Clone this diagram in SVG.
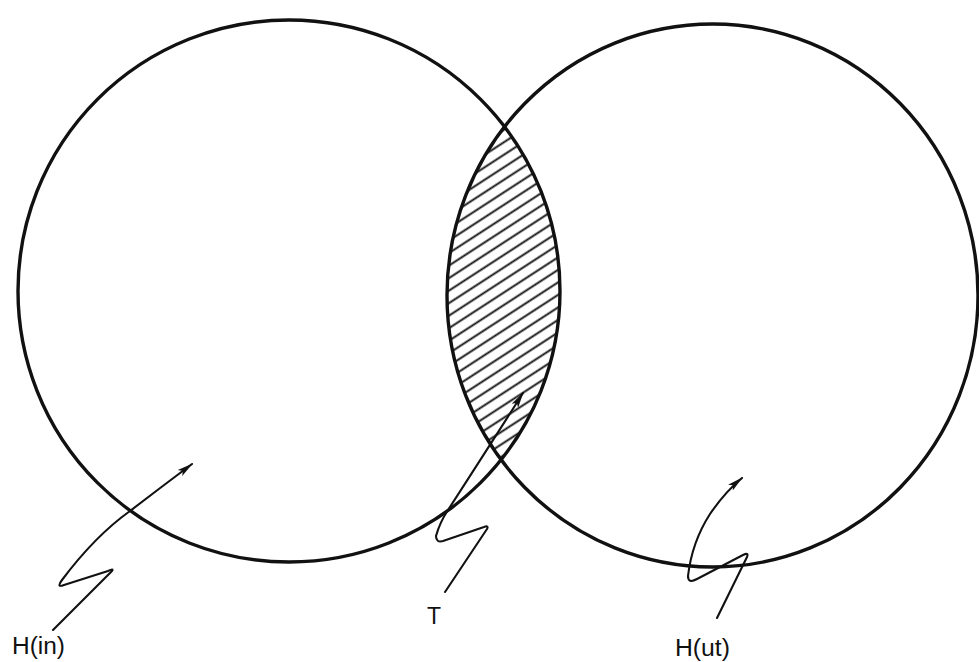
<svg xmlns="http://www.w3.org/2000/svg" width="979" height="662" viewBox="0 0 979 662">
<style>
.ring{fill:none;stroke:#111;stroke-width:3.4}
.wire{fill:none;stroke:#111;stroke-width:2.1;stroke-linejoin:round;stroke-linecap:round}
.lbl{font-family:"Liberation Sans",Arial,sans-serif;font-size:23px;fill:#111}
</style>
<defs>
<pattern id="hatch" patternUnits="userSpaceOnUse" width="10.5" height="10.5" patternTransform="rotate(-33)">
<line x1="-2" y1="5.25" x2="12.5" y2="5.25" stroke="#111" stroke-width="1.9"/>
</pattern>
<clipPath id="clipL"><circle cx="289" cy="291" r="271"/></clipPath>
<clipPath id="clipR"><ellipse cx="712.5" cy="295.5" rx="265.5" ry="271.5"/></clipPath>
<marker id="ah" viewBox="0 0 16 9" refX="15" refY="4.5" markerWidth="16" markerHeight="9" markerUnits="userSpaceOnUse" orient="auto">
<path d="M0,0.8 L16,4.5 L0,8.2 L3.5,4.5 Z" fill="#111"/>
</marker>
</defs>
<rect width="979" height="662" fill="#fff"/>
<g id="T-region">
<g clip-path="url(#clipR)"><g clip-path="url(#clipL)">
<rect x="430" y="110" width="150" height="370" fill="url(#hatch)"/>
</g></g>
</g>
<g id="H-in">
<circle class="ring" cx="289" cy="291" r="271"/>
</g>
<g id="H-ut">
<ellipse class="ring" cx="712.5" cy="295.5" rx="265.5" ry="271.5"/>
</g>
<g id="connectors">
<path class="wire" marker-end="url(#ah)" d="M53,630 L112,571 Q114,568 108,571 L64,585 Q56,588 62,580 Q95,536 130,511 Q160,488 192,464"/>
<path class="wire" marker-end="url(#ah)" d="M445,592 L487,529 Q489,525 484,527 L443,541 Q436,543 436,536 Q440,522 448,510 Q490,445 523,393"/>
<path class="wire" marker-end="url(#ah)" d="M717,618 L747,557 Q749,552 743,555 L697,579 Q688,584 688,576 Q692,542 710,514 Q725,492 742,478"/>
</g>
<g id="labels">
<text class="lbl" x="12" y="654" textLength="53" lengthAdjust="spacingAndGlyphs">H(in)</text>
<text class="lbl" x="427" y="624">T</text>
<text class="lbl" x="675" y="656" textLength="55" lengthAdjust="spacingAndGlyphs">H(ut)</text>
</g>
</svg>
